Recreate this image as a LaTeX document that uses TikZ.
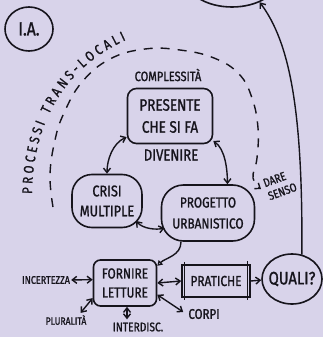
\documentclass[tikz,border=0pt]{standalone}
\usepackage{fontspec}
\newfontfamily\hand[FakeStretch=0.82,FakeBold=1.2]{Fira Sans}
\usetikzlibrary{arrows.meta,decorations.text,shapes.geometric,calc}
\definecolor{bg}{RGB}{216,211,234}
\definecolor{ink}{RGB}{22,20,28}
\tikzset{
  fs/.style 2 args={font=\hand\fontsize{#1}{#2}\selectfont},
  box/.style={draw=ink, line width=1.6pt, text=ink, align=center, inner sep=0pt},
  lab/.style={text=ink, inner sep=0pt, align=center},
  barb/.tip={Straight Barb[length=4.5pt,width=7pt]},
  oneway/.style={draw=ink, line width=1.4pt, -barb},
  twoway/.style={draw=ink, line width=1.4pt, barb-barb},
}
\begin{document}
\begin{tikzpicture}[x=1pt,y=-1pt]
\fill[bg] (0,0) rectangle (323,337);
\useasboundingbox (0,0) rectangle (323,337);

\node[box, ellipse, minimum width=48pt, minimum height=44pt, fs={19}{19}] (ia) at (29,29) {I.A.};
\node[box, ellipse, minimum width=92pt, minimum height=56pt] (top) at (232,-21) {};
\node[lab, fs={13.5}{13.5}] (compl) at (168,75) {COMPLESSITÀ};
\node[box, rounded corners=9pt, minimum width=85pt, minimum height=55pt, fs={16.5}{22}] (pres) at (170,116) {PRESENTE\\CHE SI FA};
\node[lab, fs={16}{16}] (div) at (171,155) {DIVENIRE};
\node[box, rounded corners=20pt, minimum width=70pt, minimum height=53pt, fs={15.5}{20}] (crisi) at (107,201) {CRISI\\MULTIPLE};
\node[box, rounded corners=22pt, minimum width=93pt, minimum height=56pt, fs={14.5}{21}] (prog) at (208,213) {PROGETTO\\URBANISTICO};
\node[lab, fs={12}{14}, rotate=20, align=left] (dare) at (280,185) {DARE\\SENSO};
\node[box, rounded corners=7pt, minimum width=63pt, minimum height=46pt, fs={14.5}{19}] (forn) at (125,283) {FORNIRE\\LETTURE};
\node[box, minimum width=68pt, minimum height=32pt, fs={14.5}{14.5}] (prat) at (216,281) {PRATICHE};
\node[box, ellipse, inner xsep=-8pt, minimum width=60pt, minimum height=50pt, fs={18}{18}] (quali) at (292,279) {QUALI?};
\node[lab, fs={11}{11}] (incert) at (46,280) {INCERTEZZA};
\node[lab, fs={10.5}{10.5}] (plur) at (66,320) {PLURALITÀ};
\node[lab, fs={12.5}{12.5}] (inter) at (138,327) {INTERDISC.};
\node[lab, fs={14}{14}] (corpi) at (204,314) {CORPI};

% sketchy second strokes of the PRATICHE box
\draw[ink, line width=1pt] ($(prat.north west)+(3,-2)$) -- ($(prat.south west)+(3,2)$);
\draw[ink, line width=1pt] ($(prat.north east)+(-3,-3)$) -- ($(prat.south east)+(-3,2)$);

% dashed arc
\draw[ink, line width=1.4pt, dash pattern=on 9pt off 8pt, -barb] plot[smooth, tension=0.7] coordinates {(53,207) (50,175) (55,140) (64,113) (82,82) (110,59) (145,49) (180,50) (214,58) (239,74) (252,98) (258,128) (257,158) (253,178) (261,189)};
\path[decorate, decoration={text along path, text align=fit to path, text color=ink, text={|\hand\fontsize{14}{14}\selectfont|PROCESSI TRANS-LOCALI}}] (32,194) .. controls (33,124) and (63,69) .. (126,40);

% connectors
\draw[twoway] (pres.206) .. controls +(-14,6) and +(0,-14) .. (crisi.north);
\draw[twoway] (pres.-30) .. controls +(12,8) and +(0,-14) .. (prog.56);
\draw[twoway] ($(crisi.center)+(29,20)$) .. controls +(7,8) and +(-8,2) .. ($(prog.center)+(-43.5,15)$);
\draw[draw=ink, line width=1.4pt, -{Triangle[open, length=5pt, width=6pt]}] ($(prog.south)+(-27,0)$) .. controls +(0,14) and +(8,-8) .. (forn.28);
\draw[twoway] (forn.east) -- (prat.west);
\draw[oneway] (prat.east) -- (quali.182);
\draw[oneway] (quali.68) .. controls +(1,-145) and +(30,40) .. (top.-40);
\draw[twoway, shorten <=1pt] (incert.east) -- (forn.174);
\draw[twoway] ($(plur.north east)+(-6,-2)$) -- (forn.205);
\draw[twoway] ($(forn.south)+(2,0)$) -- ($(inter.north)+(-11,-3)$);
\draw[twoway] (forn.-20) -- ($(corpi.west)+(-5,-2)$);
\end{tikzpicture}
\end{document}
